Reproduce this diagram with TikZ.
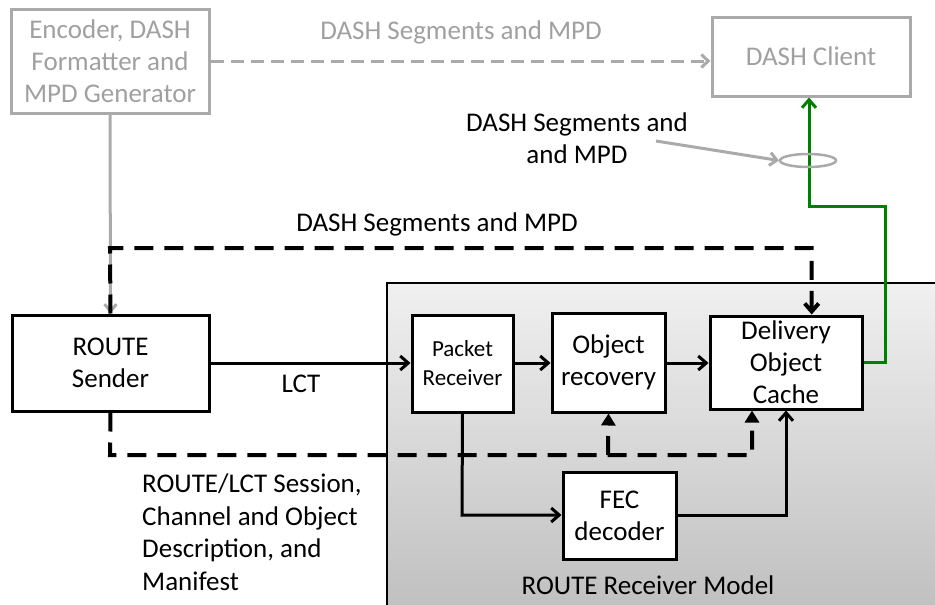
\documentclass[tikz,border=0pt]{standalone}
\usepackage{fontspec}
\setmainfont{Carlito}
\usetikzlibrary{arrows.meta,calc}
\definecolor{lgray}{RGB}{170,170,170}
\definecolor{tgray}{RGB}{160,160,160}
\definecolor{dgreen}{RGB}{0,128,0}
\definecolor{gtop}{RGB}{240,240,240}
\definecolor{gbot}{RGB}{190,190,190}
\begin{document}
\begin{tikzpicture}[x=1pt,y=-1pt,
  box/.style={draw=black,line width=3pt,fill=white,inner sep=0pt,align=center,font=\fontsize{27}{32}\selectfont},
  graybox/.style={draw=lgray,line width=3pt,fill=white,inner sep=0pt,align=center,text=tgray,font=\fontsize{27}{32}\selectfont},
  lbl/.style={inner sep=0pt,align=center,font=\fontsize{27}{32.5}\selectfont},
  arr/.style={line width=3pt,-{Straight Barb[length=8pt,width=14pt,line width=3pt]}},
  darr/.style={line width=4pt,dash pattern=on 19pt off 11pt,-{Triangle[length=12pt,width=14pt]}},
  tarr/.style={line width=4pt,dash pattern=on 19pt off 11pt,-{Straight Barb[length=8pt,width=14pt,line width=4pt]}},
]
\useasboundingbox (0,0) rectangle (935,605);
\clip (0,0) rectangle (935,605);
% receiver model area
\path[top color=gtop,bottom color=gbot,draw=black,line width=1.5pt] (387,283) rectangle (950,620);
\node[lbl] (rrm) at (648,585) {ROUTE Receiver Model};

% nodes
\node[graybox,minimum width=198pt,minimum height=104pt] (enc) at (110,61) {Encoder, DASH\\Formatter and\\MPD Generator};
\node[graybox,minimum width=198pt,minimum height=79pt] (dc) at (811,56.5) {DASH Client};
\node[box,minimum width=197pt,minimum height=96pt] (rs) at (110.5,363) {ROUTE\\Sender};
\node[box,minimum width=101pt,minimum height=97pt,font=\fontsize{23}{29}\selectfont] (pr) at (462.5,363.5) {Packet\\Receiver};
\node[box,minimum width=113pt,minimum height=99pt] (or) at (608.5,362.5) {Object\\recovery};
\node[box,minimum width=152pt,minimum height=93pt] (doc) at (786,362.5) {Delivery\\Object\\Cache};
\node[box,minimum width=113pt,minimum height=87pt] (fec) at (619.5,515.5) {FEC\\decoder};

% labels
\node[lbl,text=tgray] (l1) at (461,32) {DASH Segments and MPD};
\node[lbl] (l2) at (577,138) {DASH Segments and\\and MPD};
\node[lbl] (l3) at (437,224) {DASH Segments and MPD};
\node[lbl] (l4) at (301,384) {LCT};
\node[lbl,align=left,anchor=west] (l5) at (142,532) {ROUTE/LCT Session,\\Channel and Object\\Description, and\\Manifest};

% coordinates
\coordinate (tl) at (110,248);
\coordinate (tr) at (811.7,248);
\coordinate (bl) at (110,455);
\coordinate (bm) at (608,455);
\coordinate (br) at (752,455);
\coordinate (fx) at (786,515);
\coordinate (fy) at (462,515);
\coordinate (g1) at (885,362);
\coordinate (g2) at (885,206);
\coordinate (g3) at (809,206);
\coordinate (ell) at (808,160.5);
\coordinate (pt) at (656,141);

% gray connectors
\draw[lgray,line width=3pt,dash pattern=on 13pt off 7pt,-{Straight Barb[length=7pt,width=13pt,line width=3pt]}] (enc.east |- 0,61) -- (dc.west |- 0,61);
\draw[lgray,line width=3pt,-{Straight Barb[length=7pt,width=12pt,line width=3pt]}] (enc.south) -- (rs.north);

% black dashed
\draw[tarr] (rs.north) -- (tl) -- (tr) -- (tr |- doc.north);
\draw[darr] (rs.south) -- (bl) -- (br) -- (br |- doc.south);
\draw[darr] (bm) -- (or.south);

% solid arrows
\draw[arr] (rs.east |- 0,363) -- (pr.west |- 0,363);
\draw[arr] (pr.east |- 0,363) -- (or.west |- 0,363);
\draw[arr] (or.east |- 0,363) -- (doc.west |- 0,363);
\draw[arr] (pr.south) -- (fy) -- (fec.west |- fy);
\draw[arr] (fec.east |- fx) -- (fx) -- (fx |- doc.south);

% green
\draw[dgreen,line width=3pt,-{Straight Barb[length=8pt,width=14pt,line width=3pt]}] (doc.east |- g1) -- (g1) -- (g2) -- (g3) -- (g3 |- dc.south);

% ellipse and pointer
\draw[lgray,line width=2.5pt] (ell) ellipse [x radius=28pt,y radius=6.5pt];
\draw[lgray,line width=3pt,-{Straight Barb[length=7pt,width=13pt,line width=3pt]}] (pt) -- ($(ell)+(-29,0)$);
\end{tikzpicture}
\end{document}
